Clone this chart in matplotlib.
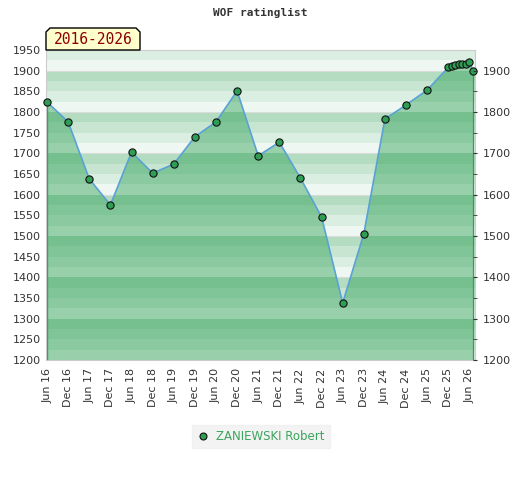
import matplotlib
matplotlib.use("Agg")
import matplotlib.pyplot as plt
from matplotlib.lines import Line2D
from matplotlib.patches import Polygon
import numpy as np

# months counted from Jun 2016
months = [0, 6, 12, 18, 24, 30, 36, 42, 48, 54, 60, 66, 72, 78, 84, 90, 96,
          102, 108, 114, 115, 116, 117, 118, 119, 120, 121]
ratings = [1824, 1776, 1638, 1575, 1703, 1652, 1674, 1740, 1776, 1851, 1694,
           1727, 1640, 1546, 1338, 1505, 1783, 1817, 1853, 1908, 1911, 1913,
           1915, 1915, 1916, 1921, 1900]
tick_months = list(range(0, 121, 6))
tick_labels = ['Jun 16', 'Dec 16', 'Jun 17', 'Dec 17', 'Jun 18', 'Dec 18',
               'Jun 19', 'Dec 19', 'Jun 20', 'Dec 20', 'Jun 21', 'Dec 21',
               'Jun 22', 'Dec 22', 'Jun 23', 'Dec 23', 'Jun 24', 'Dec 24',
               'Jun 25', 'Dec 25', 'Jun 26']
player = 'ZANIEWSKI Robert'
period = '2016-2026'

ymin, ymax = 1200, 1950
bg_shades = ['#b3dcc0', '#c7e5d1', '#dbeee2', '#eff7f2']
fill_shades = ['#76c08f', '#80c598', '#8bcaa1', '#97d0ab']

fig = plt.figure(figsize=(5.2, 4.8), dpi=100)
ax = fig.add_axes([46 / 520, 1 - 360 / 480, 429 / 520, 310 / 480])

# striped background, four bands per 100 points
for top in range(2000, ymin, -25):
    shade = (2000 - top) // 25 % 4
    ax.axhspan(top - 25, top, color=bg_shades[shade], lw=0, zorder=0)
for y in range(ymin, ymax + 1, 100):
    ax.axhline(y, color='#d9dcd9', lw=0.8, zorder=0.5)

# area under the rating line with the darker stripes
area = ax.fill_between(months, ratings, ymin, facecolor='none', lw=0)
clip = area.get_paths()[0]
for top in range(2000, ymin, -25):
    shade = (2000 - top) // 25 % 4
    band = ax.axhspan(top - 25, top, color=fill_shades[shade], lw=0, zorder=1)
    band.set_clip_path(clip, ax.transData)

ax.vlines([months[0], months[-1]], ymin, [ratings[0], ratings[-1]],
          color='#3a9a5a', lw=1, zorder=2)
ax.plot(months, ratings, color='#5aa2d6', lw=1.2, zorder=3)
ax.plot(months, ratings, ls='none', marker='o', ms=5.2, mfc='#2f9e55',
        mec='#111111', mew=0.8, zorder=4, clip_on=False)

ax.set_xlim(-0.3, 121.6)
ax.set_ylim(ymin, ymax)
ax.set_yticks(range(ymin, ymax + 1, 50))
ax.set_xticks(tick_months)
ax.set_xticklabels(tick_labels, rotation=90)
ax.tick_params(axis='both', length=0, labelsize=8, colors='#333333')
ax.tick_params(axis='x', pad=6)
for s in ax.spines.values():
    s.set_color('#cccccc')

ax2 = ax.twinx()
ax2.set_ylim(ymin, ymax)
ax2.set_yticks(range(ymin, 1901, 100))
ax2.set_yticks(range(1250, 1901, 100), minor=True)
ax2.tick_params(axis='y', which='both', length=3, direction='inout',
                labelsize=8, colors='#333333', pad=4)
for s in ax2.spines.values():
    s.set_visible(False)

fig.text(0.5, 1 - 13 / 480, 'WOF ratinglist', ha='center', va='center',
         family='DejaVu Sans Mono', weight='bold', fontsize=8, color='#333333')

# period label box with cut top corners
x0, x1, yt, yb = 46 / 520, 140 / 520, 1 - 28 / 480, 1 - 50 / 480
cx, cy = 4 / 520, 4 / 480
box = Polygon([(x0, yb), (x0, yt - cy), (x0 + cx, yt), (x1 - cx, yt),
               (x1, yt - cy), (x1, yb)], closed=True, transform=fig.transFigure,
              facecolor='#ffffcc', edgecolor='black', lw=1)
fig.patches.append(box)
fig.text((x0 + x1) / 2, (yt + yb) / 2 - 1 / 480, period, ha='center', va='center',
         family='DejaVu Sans Mono', fontsize=10.5, color='#8b0000')

handle = Line2D([], [], ls='none', marker='o', ms=5, mfc='#2f9e55',
                mec='#111111', mew=0.8)
leg = fig.legend(handles=[handle], labels=[player], loc='center',
                 bbox_to_anchor=(261 / 520, 1 - 436.5 / 480), fontsize=8.5,
                 frameon=True, fancybox=False, handlelength=1, handletextpad=0.6,
                 borderpad=0.45)
leg.get_frame().set_facecolor('#f0f0f0')
leg.get_frame().set_edgecolor('#f0f0f0')
for t in leg.get_texts():
    t.set_color('#3aa55d')

fig.savefig('out.png', dpi=100)
